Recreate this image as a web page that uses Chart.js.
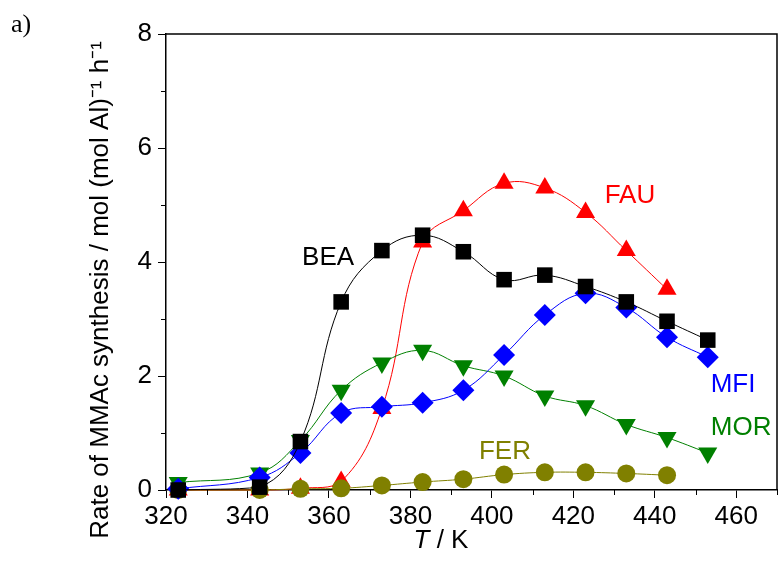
<!DOCTYPE html>
<html>
<head>
<meta charset="utf-8">
<script src="https://cdn.jsdelivr.net/npm/chart.js@4.4.0/dist/chart.umd.min.js"></script>
<style>
  html, body { margin: 0; padding: 0; background: #fff; }
  #wrap { width: 779px; height: 563px; }
</style>
</head>
<body>
<div id="wrap"><canvas id="grafico" width="779" height="563"></canvas></div>
<script>
// temperatures (K)
var temps = [323, 343, 353, 363, 373, 383, 393, 403, 413, 423, 433, 443, 453];

// rates, mol (mol Al)^-1 h^-1
var bea = [0.00, 0.05, 0.85, 3.30, 4.20, 4.47, 4.18, 3.69, 3.77, 3.57, 3.30, 2.96, 2.63];
var fau = [0.00, 0.00, 0.03, 0.15, 1.43, 4.35, 4.90, 5.38, 5.30, 4.87, 4.20, 3.52];
var mfi = [0.02, 0.22, 0.65, 1.35, 1.46, 1.53, 1.75, 2.37, 3.07, 3.45, 3.20, 2.68, 2.33];
var mor = [0.13, 0.30, 0.87, 1.75, 2.23, 2.45, 2.18, 2.00, 1.65, 1.48, 1.15, 0.92, 0.65];
var fer = [0.00, 0.00, 0.02, 0.03, 0.08, 0.14, 0.19, 0.27, 0.31, 0.31, 0.29, 0.26];

var xTicks = [320, 340, 360, 380, 400, 420, 440, 460];
var yTicks = [0, 2, 4, 6, 8];

var FONT = '"Liberation Sans", Arial, sans-serif';

function pts(vals) {
    var out = [];
    for (var i = 0; i < vals.length; i++) {
        out.push({x: temps[i], y: vals[i]});
    }
    return out;
}

function serie(label, vals, cor, estilo, raio, rot) {
    return {
        label: label,
        data: pts(vals),
        borderColor: cor,
        backgroundColor: cor,
        pointBackgroundColor: cor,
        pointBorderColor: cor,
        pointBorderWidth: 0,
        borderWidth: 1,
        tension: 0.4,
        pointStyle: estilo,
        pointRadius: raio,
        pointHoverRadius: raio,
        pointRotation: rot || 0,
        clip: false
    };
}

// extra drawing: frame, minor ticks, titles and series names
var extras = {
    id: 'extras',
    afterDraw: function(chart) {
        var ctx = chart.ctx;
        var a = chart.chartArea;
        var sx = chart.scales.x, sy = chart.scales.y;
        ctx.save();
        ctx.strokeStyle = '#000';
        ctx.lineWidth = 1.5;
        ctx.beginPath();
        ctx.moveTo(a.left, a.top);
        ctx.lineTo(a.right, a.top);
        ctx.lineTo(a.right, a.bottom);
        ctx.stroke();

        // minor ticks
        ctx.lineWidth = 1;
        ctx.beginPath();
        for (var v = 330; v <= 470; v += 20) {
            var px = Math.round(sx.getPixelForValue(v)) + 0.5;
            ctx.moveTo(px, a.bottom);
            ctx.lineTo(px, a.bottom + 5);
        }
        for (var w = 1; w <= 7; w += 2) {
            var py = Math.round(sy.getPixelForValue(w)) + 0.5;
            ctx.moveTo(a.left, py);
            ctx.lineTo(a.left - 5, py);
        }
        ctx.stroke();

        // series names
        var nomes = [
            ['BEA', 359.8, 4.07, '#000000'],
            ['FAU', 433.9, 5.16, '#ff0000'],
            ['MFI', 459.2, 1.84, '#0000ff'],
            ['MOR', 461.2, 1.09, '#008000'],
            ['FER', 403.2, 0.67, '#808000']
        ];
        ctx.font = '26px ' + FONT;
        ctx.textAlign = 'center';
        ctx.textBaseline = 'middle';
        for (var i = 0; i < nomes.length; i++) {
            ctx.fillStyle = nomes[i][3];
            ctx.fillText(nomes[i][0], sx.getPixelForValue(nomes[i][1]), sy.getPixelForValue(nomes[i][2]));
        }

        // y title
        ctx.fillStyle = '#000';
        ctx.save();
        ctx.translate(101, 290);
        ctx.rotate(-Math.PI / 2);
        ctx.font = '26px ' + FONT;
        ctx.fillText('Rate of MMAc synthesis / mol (mol Al)\u207B\u00B9 h\u207B\u00B9', 0, 0);
        ctx.restore();

        // x title
        ctx.font = 'italic 26px ' + FONT;
        var w1 = ctx.measureText('T').width;
        ctx.font = '26px ' + FONT;
        var w2 = ctx.measureText(' / K').width;
        var x0 = 441 - (w1 + w2) / 2;
        ctx.textAlign = 'left';
        ctx.font = 'italic 26px ' + FONT;
        ctx.fillText('T', x0, 541);
        ctx.font = '26px ' + FONT;
        ctx.fillText(' / K', x0 + w1, 541);

        // panel letter
        ctx.font = '26px "Liberation Serif", "Times New Roman", serif';
        ctx.fillText('a)', 11, 25);
        ctx.restore();
    }
};

var canvas = document.getElementById('grafico');
var ctx = canvas.getContext('2d');

var grafico = new Chart(ctx, {
    type: 'line',
    data: {
        datasets: [
            serie('BEA', bea, '#000000', 'rect', 11),
            serie('MFI', mfi, '#0000ff', 'rectRot', 11),
            serie('MOR', mor, '#008000', 'triangle', 11, 180),
            serie('FER', fer, '#808000', 'circle', 9),
            serie('FAU', fau, '#ff0000', 'triangle', 11)
        ]
    },
    options: {
        responsive: false,
        animation: false,
        events: [],
        layout: { autoPadding: false, padding: { top: 34, right: 2, left: 0, bottom: 0 } },
        plugins: {
            legend: { display: false },
            tooltip: { enabled: false }
        },
        scales: {
            x: {
                type: 'linear',
                min: 320,
                max: 470,
                afterFit: function(s) { s.height = 73; },
                afterBuildTicks: function(s) {
                    s.ticks = xTicks.map(function(v) { return {value: v}; });
                },
                grid: { drawOnChartArea: false, tickLength: 8, tickColor: '#000', tickWidth: 1 },
                border: { display: true, color: '#000', width: 1.5 },
                ticks: { color: '#000', padding: 3, maxRotation: 0, font: { family: FONT, size: 26 } }
            },
            y: {
                type: 'linear',
                min: 0,
                max: 8,
                afterFit: function(s) { s.width = 166; },
                afterBuildTicks: function(s) {
                    s.ticks = yTicks.map(function(v) { return {value: v}; });
                },
                grid: { drawOnChartArea: false, tickLength: 8, tickColor: '#000', tickWidth: 1 },
                border: { display: true, color: '#000', width: 1.5 },
                ticks: { color: '#000', padding: 6, font: { family: FONT, size: 26 } }
            }
        }
    },
    plugins: [extras]
});
</script>
</body>
</html>
